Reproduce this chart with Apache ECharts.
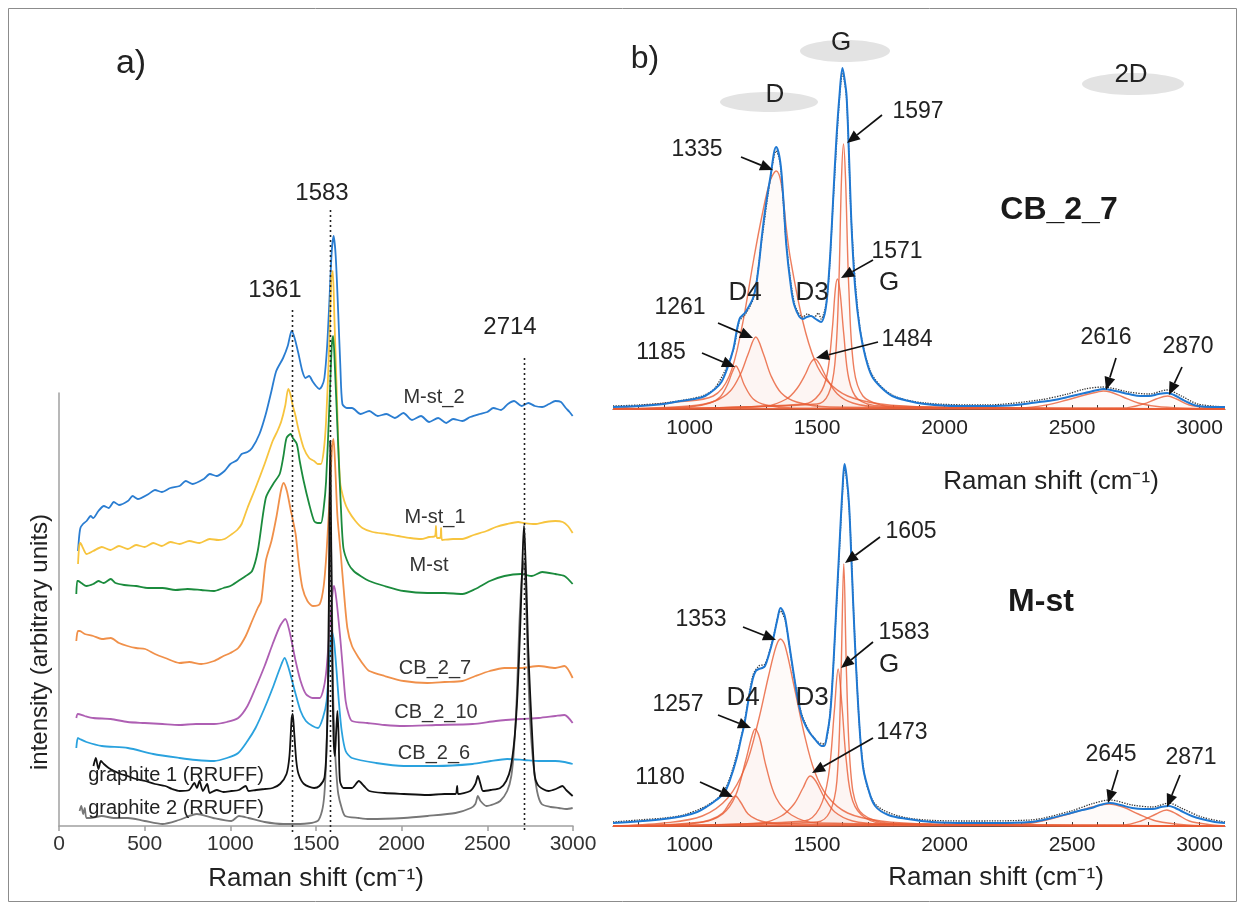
<!DOCTYPE html>
<html>
<head>
<meta charset="utf-8">
<script src="https://cdn.jsdelivr.net/npm/echarts@6/dist/echarts.min.js"></script>
<style>html,body{margin:0;padding:0;background:#fff}#c{width:1245px;height:910px}</style>
</head>
<body>
<div id="c"></div>
<script>
// ---------- DATA (panel a: stacked spectra, arbitrary intensity) ----------
const leftTicks = [0, 500, 1000, 1500, 2000, 2500, 3000];
const rightTicks = [1000, 1500, 2000, 2500, 3000];
const rightMinorTicks = [800, 900, 1000, 1100, 1200, 1300, 1400, 1500, 1600, 1700, 1800, 1900, 2000, 2100, 2200, 2300, 2400, 2500, 2600, 2700, 2800, 2900, 3000];
const peakLinesA = [1361, 1583, 2714];

const mSt2 = [[111,275],[118,290],[125,298],[140,302],[161,305],[185,310],[200,308],[230,315],[262,320],[290,318],[320,324],[350,321],[402,325],[430,330],[460,327],[523,332],[560,336],[600,334],[650,338],[704,340],[740,345],[780,342],[845,347],[880,352],[920,350],[966,355],[1000,362],[1040,366],[1066,372],[1100,374],[1127,378],[1170,392],[1207,412],[1240,435],[1268,455],[1308,468],[1335,480],[1358,495],[1375,488],[1398,472],[1420,455],[1439,448],[1460,450],[1479,445],[1500,440],[1519,437],[1535,440],[1549,448],[1565,480],[1579,528],[1592,575],[1603,590],[1615,570],[1630,512],[1642,460],[1654,422],[1680,418],[1710,418],[1760,412],[1811,415],[1860,410],[1911,412],[1960,408],[2010,413],[2060,406],[2113,410],[2160,404],[2213,408],[2260,403],[2300,407],[2354,405],[2400,409],[2455,412],[2500,414],[2535,418],[2580,416],[2620,422],[2656,425],[2700,420],[2740,423],[2777,420],[2820,419],[2860,422],[2897,425],[2930,424],[2958,418],[2980,414],[2998,410]];
const mSt1 = [[111,262],[118,280],[125,283],[140,278],[161,272],[200,275],[250,279],[300,276],[350,280],[402,277],[450,281],[500,279],[550,283],[600,280],[650,284],[704,282],[760,285],[820,283],[880,287],[930,286],[966,287],[1010,292],[1040,296],[1066,302],[1100,318],[1147,338],[1200,362],[1247,385],[1275,395],[1298,405],[1320,420],[1338,437],[1350,432],[1365,420],[1378,412],[1400,395],[1428,378],[1460,368],[1489,365],[1510,362],[1529,362],[1545,375],[1559,405],[1575,470],[1590,548],[1598,555],[1607,510],[1620,440],[1640,345],[1665,325],[1690,315],[1730,305],[1771,298],[1830,294],[1911,292],[1980,290],[2050,288],[2113,287],[2160,289],[2195,290],[2200,300],[2206,288],[2225,288],[2230,298],[2236,286],[2300,287],[2354,287],[2420,291],[2495,295],[2550,299],[2616,302],[2680,304],[2714,303],[2777,302],[2840,304],[2897,305],[2940,304],[2970,300],[2998,293]];
const mSt = [[101,232],[106,245],[111,245],[130,243],[160,240],[200,242],[230,245],[260,243],[302,247],[330,243],[380,241],[450,240],[520,238],[604,238],[680,236],[750,237],[830,236],[905,235],[960,238],[1000,240],[1046,245],[1090,250],[1127,255],[1160,275],[1207,328],[1250,342],[1288,352],[1310,370],[1328,388],[1352,392],[1365,388],[1388,382],[1405,365],[1428,345],[1460,322],[1489,305],[1510,303],[1529,303],[1545,318],[1559,345],[1578,420],[1592,480],[1600,490],[1610,460],[1630,378],[1645,320],[1660,278],[1690,262],[1720,255],[1760,250],[1811,245],[1900,240],[2012,235],[2150,233],[2250,233],[2354,232],[2430,237],[2515,245],[2600,250],[2696,252],[2760,250],[2820,254],[2897,252],[2950,250],[2998,242]];
const cb27 = [[101,185],[110,195],[121,195],[150,192],[200,190],[250,187],[302,188],[350,183],[400,180],[450,178],[503,177],[560,172],[620,168],[704,163],[760,164],[830,162],[905,165],[960,170],[1000,173],[1046,178],[1090,190],[1127,205],[1160,218],[1180,225],[1207,265],[1240,285],[1270,310],[1295,335],[1311,343],[1330,335],[1350,318],[1381,292],[1400,262],[1421,238],[1450,225],[1482,220],[1522,222],[1545,240],[1562,275],[1580,330],[1594,380],[1602,387],[1612,360],[1625,310],[1643,275],[1660,240],[1683,198],[1710,180],[1750,168],[1783,160],[1811,155],[1900,150],[2012,145],[2150,143],[2250,144],[2354,145],[2430,150],[2515,155],[2600,158],[2696,158],[2800,160],[2897,158],[2950,160],[2998,148]];
const cb210 = [[101,108],[110,112],[150,110],[200,108],[302,107],[400,104],[500,103],[604,102],[700,101],[800,102],[905,102],[980,104],[1046,108],[1100,120],[1147,138],[1200,160],[1247,182],[1290,200],[1321,207],[1345,195],[1381,165],[1410,145],[1441,132],[1480,128],[1522,128],[1545,138],[1562,158],[1585,210],[1600,238],[1606,240],[1620,225],[1643,185],[1660,150],[1673,125],[1690,112],[1710,105],[1800,103],[1900,101],[2012,100],[2200,101],[2414,102],[2550,105],[2696,107],[2800,108],[2897,110],[2950,111],[2998,103]];
const cb26 = [[101,78],[110,88],[121,87],[160,84],[250,80],[402,78],[550,72],[704,68],[800,66],[905,65],[980,68],[1046,73],[1100,85],[1147,98],[1200,118],[1247,138],[1290,158],[1317,168],[1340,158],[1381,132],[1410,115],[1441,105],[1480,100],[1512,98],[1540,108],[1562,125],[1580,170],[1592,195],[1605,185],[1620,155],[1633,125],[1650,95],[1673,75],[1710,68],[1850,63],[2012,60],[2200,60],[2414,62],[2520,65],[2616,67],[2714,66],[2800,65],[2897,65],[2950,64],[2998,62]];
const graphite1 = [[201,60],[215,68],[230,57],[245,65],[262,62],[290,58],[322,55],[360,52],[400,50],[450,47],[503,45],[560,42],[620,40],[660,37],[704,35],[760,36],[790,43],[805,38],[820,45],[840,35],[865,42],[880,33],[920,36],[960,34],[1006,35],[1050,36],[1090,40],[1106,35],[1150,36],[1200,37],[1247,38],[1290,42],[1328,52],[1345,70],[1358,108],[1364,112],[1372,95],[1385,65],[1398,52],[1430,42],[1489,38],[1520,40],[1549,48],[1562,80],[1572,160],[1578,300],[1583,385],[1588,300],[1595,160],[1602,90],[1610,70],[1618,95],[1625,115],[1632,90],[1640,45],[1660,38],[1710,38],[1750,45],[1780,40],[1811,35],[1900,33],[2012,32],[2150,31],[2250,32],[2314,32],[2324,40],[2330,32],[2400,35],[2430,42],[2445,50],[2460,42],[2475,35],[2520,36],[2575,38],[2610,45],[2636,58],[2660,90],[2676,132],[2690,190],[2700,240],[2708,280],[2714,300],[2720,280],[2728,240],[2738,180],[2750,132],[2765,80],[2777,50],[2800,40],[2857,35],[2900,37],[2938,40],[2960,36],[2998,30]];
const graphite2 = [[120,15],[130,20],[141,12],[150,18],[160,8],[181,8],[250,10],[320,8],[402,8],[500,5],[604,2],[700,6],[805,12],[900,8],[1006,5],[1050,10],[1106,8],[1200,4],[1308,2],[1408,2],[1509,5],[1535,15],[1549,32],[1560,70],[1569,132],[1577,240],[1585,305],[1592,240],[1600,132],[1610,80],[1620,50],[1630,32],[1650,18],[1670,10],[1750,8],[1811,7],[2012,8],[2150,10],[2314,13],[2404,18],[2430,22],[2445,30],[2460,25],[2495,20],[2540,22],[2575,25],[2616,35],[2640,50],[2656,78],[2672,130],[2686,198],[2700,245],[2714,265],[2725,230],[2736,165],[2750,105],[2767,65],[2790,35],[2817,22],[2870,19],[2918,18],[2960,17],[2998,18]];

// ---------- DATA (panel b, top: CB_2_7 fit) ----------
const topFit = [[700,2],[805,3],[900,5],[965,8],[1020,10],[1061,13],[1100,20],[1125,27],[1150,42],[1172,60],[1196,90],[1220,97],[1252,113],[1270,140],[1284,173],[1300,205],[1316,230],[1340,262],[1356,247],[1368,210],[1380,163],[1395,128],[1412,103],[1444,90],[1460,92],[1476,93],[1495,90],[1516,87],[1530,95],[1540,113],[1552,155],[1564,213],[1576,270],[1588,313],[1600,341],[1608,330],[1616,313],[1626,250],[1636,180],[1650,120],[1668,80],[1690,52],[1715,33],[1750,22],[1795,13],[1860,8],[1923,5],[2050,3],[2163,3],[2280,4],[2371,7],[2430,9],[2483,12],[2550,16],[2600,19],[2623,20],[2670,18],[2722,15],[2770,13],[2802,13],[2840,15],[2873,16],[2900,14],[2929,10],[2960,6],[2993,3],[3050,2],[3100,2]];
const topRaw = [[700,3],[800,4],[900,6],[1000,10],[1060,14],[1100,21],[1150,44],[1175,62],[1196,88],[1220,95],[1252,112],[1284,170],[1316,228],[1340,258],[1356,245],[1380,165],[1412,105],[1444,92],[1462,95],[1476,93],[1490,92],[1505,96],[1516,90],[1540,112],[1564,210],[1588,310],[1600,335],[1616,310],[1636,182],[1668,82],[1715,35],[1795,14],[1923,6],[2163,4],[2371,9],[2483,15],[2550,20],[2623,22],[2722,17],[2802,15],[2873,19],[2929,13],[2993,5],[3100,2]];
const top1185 = [[700,0],[1000,2],[1080,6],[1120,12],[1150,25],[1168,37],[1182,43],[1196,37],[1215,24],[1250,10],[1300,4],[1400,1],[3100,0]];
const top1261 = [[700,0],[1000,3],[1100,8],[1160,18],[1200,35],[1230,55],[1260,72],[1290,55],[1320,33],[1360,16],[1420,7],[1550,2],[3100,0]];
const top1335 = [[700,0],[800,3],[950,7],[1093,13],[1156,33],[1204,80],[1252,150],[1284,193],[1316,228],[1340,238],[1360,225],[1380,180],[1396,150],[1444,88],[1492,48],[1540,28],[1620,13],[1750,5],[1950,2],[3100,0]];
const top1484 = [[700,0],[1300,3],[1380,10],[1420,20],[1455,35],[1475,46],[1492,50],[1510,45],[1540,30],[1580,15],[1640,6],[1750,2],[3100,0]];
const top1571 = [[700,0],[1450,5],[1510,15],[1540,35],[1560,80],[1572,120],[1580,130],[1590,118],[1605,75],[1625,30],[1660,10],[1750,3],[3100,0]];
const top1597 = [[700,0],[1500,5],[1545,15],[1570,45],[1585,120],[1596,230],[1604,265],[1612,230],[1625,120],[1645,40],[1680,13],[1750,4],[1850,1],[3100,0]];
const top2616 = [[700,0],[2300,1],[2400,4],[2480,9],[2550,14],[2600,17],[2623,18],[2650,17],[2700,12],[2760,6],[2850,2],[3100,0]];
const top2870 = [[700,0],[2700,1],[2780,5],[2830,10],[2875,13],[2910,10],[2960,4],[3050,1],[3100,0]];

// ---------- DATA (panel b, bottom: M-st fit) ----------
const botFit = [[700,3],[816,5],[900,7],[976,10],[1030,14],[1072,20],[1105,26],[1136,33],[1160,47],[1184,67],[1200,85],[1216,103],[1232,127],[1248,147],[1260,155],[1272,157],[1285,158],[1296,160],[1312,172],[1328,187],[1345,207],[1357,218],[1368,214],[1376,207],[1392,180],[1408,153],[1424,128],[1440,110],[1456,100],[1472,93],[1488,88],[1504,83],[1518,80],[1528,80],[1540,92],[1552,113],[1564,160],[1576,220],[1590,290],[1600,337],[1608,362],[1616,350],[1626,320],[1636,260],[1648,187],[1664,110],[1680,60],[1700,38],[1728,20],[1780,11],[1856,7],[1950,4],[2096,3],[2200,3],[2336,4],[2420,8],[2496,13],[2540,16],[2576,18],[2610,21],[2648,23],[2690,21],[2736,18],[2780,17],[2816,17],[2850,19],[2880,20],[2905,18],[2928,15],[2970,10],[3008,7],[3060,4],[3100,3]];
const botRaw = [[700,4],[800,6],[900,8],[976,11],[1072,21],[1136,35],[1184,70],[1216,105],[1248,150],[1272,160],[1296,162],[1328,188],[1357,215],[1376,205],[1408,152],[1440,112],[1472,94],[1504,84],[1528,82],[1552,115],[1576,218],[1600,333],[1608,358],[1626,318],[1648,190],[1680,62],[1728,22],[1856,8],[2096,5],[2336,6],[2496,15],[2576,22],[2648,26],[2736,21],[2816,19],[2880,23],[2928,18],[3008,9],[3100,4]];
const bot1180 = [[700,0],[1000,2],[1080,6],[1130,13],[1160,24],[1180,30],[1200,24],[1230,12],[1280,5],[1350,2],[3100,0]];
const bot1257 = [[700,0],[1050,4],[1130,12],[1180,30],[1220,65],[1245,90],[1257,97],[1275,88],[1300,60],[1340,28],[1400,11],[1500,3],[3100,0]];
const bot1353 = [[700,0],[900,3],[1050,10],[1150,28],[1220,60],[1270,105],[1310,150],[1340,180],[1357,187],[1375,180],[1410,140],[1450,92],[1490,55],[1540,30],[1620,13],[1750,5],[1950,2],[3100,0]];
const bot1473 = [[700,0],[1280,3],[1360,10],[1410,22],[1445,38],[1473,50],[1495,45],[1530,28],[1570,14],[1640,5],[1750,2],[3100,0]];
const bot1583 = [[700,0],[1450,5],[1510,18],[1545,50],[1568,115],[1583,157],[1598,120],[1615,65],[1640,25],[1690,8],[1780,2],[3100,0]];
const bot1605 = [[700,0],[1500,4],[1550,14],[1578,45],[1594,150],[1605,262],[1616,150],[1632,55],[1660,18],[1720,6],[1820,2],[3100,0]];
const bot2645 = [[700,0],[2300,2],[2400,6],[2500,13],[2580,19],[2645,22],[2700,19],[2760,12],[2830,5],[2950,1],[3100,0]];
const bot2871 = [[700,0],[2700,1],[2770,5],[2830,12],[2871,16],[2910,12],[2960,5],[3050,1],[3100,0]];

// ---------- CHART ----------
const FONT = "'Liberation Sans', Arial, sans-serif";
const chart = echarts.init(document.getElementById('c'), null, {renderer: 'canvas'});

const leftSpectra = [
  ['M-st_2', mSt2, '#2a7dd1'],
  ['M-st_1', mSt1, '#f7c43e'],
  ['M-st', mSt, '#1b8b3d'],
  ['CB_2_7', cb27, '#f0904a'],
  ['CB_2_10', cb210, '#ae5fb3'],
  ['CB_2_6', cb26, '#2aa2de'],
  ['graphite 2 (RRUFF)', graphite2, '#777777'],
  ['graphite 1 (RRUFF)', graphite1, '#111111']
];
const topBands = [top1185, top1261, top1335, top1484, top1571, top1597, top2616, top2870];
const botBands = [bot1180, bot1257, bot1353, bot1473, bot1583, bot1605, bot2645, bot2871];

const series = [];
leftSpectra.forEach(([name, d, col]) => {
  series.push({name, type: 'line', xAxisIndex: 0, yAxisIndex: 0, data: d, symbol: 'none', clip: false,
    smooth: 0.25, lineStyle: {color: col, width: 1.8}, z: 3});
});
function addFit(ax, bands, raw, fit) {
  bands.forEach(b => series.push({type: 'line', xAxisIndex: ax, yAxisIndex: ax, data: b, symbol: 'none', clip: false,
    smooth: 0.35, lineStyle: {color: 'rgba(232,92,52,0.8)', width: 1.4},
    areaStyle: {color: 'rgba(240,120,90,0.05)'}, z: 2}));
  series.push({type: 'line', xAxisIndex: ax, yAxisIndex: ax, data: raw, symbol: 'none', clip: false,
    smooth: 0.3, lineStyle: {color: '#333', width: 1.3, type: 'dotted'}, z: 3});
  series.push({type: 'line', xAxisIndex: ax, yAxisIndex: ax, data: fit, symbol: 'none', clip: false,
    smooth: 0.35, lineStyle: {color: '#1f78d2', width: 2}, z: 4});
}
addFit(1, topBands, topRaw, topFit);
addFit(2, botBands, botRaw, botFit);

const plain = v => String(v);
const rightX = (top) => ({
  gridIndex: top ? 1 : 2, type: 'value', min: 700, max: 3100,
  axisLine: {show: true, lineStyle: {color: '#444', width: 1}},
  axisTick: {show: true, customValues: rightMinorTicks, length: 4, inside: true, lineStyle: {color: '#333'}},
  axisLabel: {customValues: rightTicks, formatter: plain, color: '#222', fontSize: 21, fontFamily: FONT, margin: 9},
  splitLine: {show: false}
});

const option = {
  animation: false,
  backgroundColor: '#ffffff',
  grid: [
    {left: 59, width: 514, top: 393, height: 433},
    {left: 613, width: 612, top: 49, height: 360},
    {left: 613, width: 612, top: 466, height: 360}
  ],
  xAxis: [
    {gridIndex: 0, type: 'value', min: leftTicks[0], max: leftTicks[leftTicks.length - 1], interval: 500,
      axisLine: {show: true, lineStyle: {color: '#a0a0a0', width: 1.5}},
      axisTick: {show: true, length: 5, lineStyle: {color: '#a0a0a0', width: 1.5}},
      axisLabel: {formatter: plain, color: '#333', fontSize: 21, fontFamily: FONT, margin: 8},
      splitLine: {show: false},
      name: 'Raman shift (cm⁻¹)', nameLocation: 'middle', nameGap: 40,
      nameTextStyle: {fontSize: 26, color: '#222', fontFamily: FONT}},
    rightX(true),
    rightX(false)
  ],
  yAxis: [
    {gridIndex: 0, type: 'value', min: 0, max: 433,
      axisLine: {show: true, lineStyle: {color: '#a0a0a0', width: 1.5}},
      axisTick: {show: false}, axisLabel: {show: false}, splitLine: {show: false}},
    {gridIndex: 1, type: 'value', min: 0, max: 360, show: false, splitLine: {show: false}},
    {gridIndex: 2, type: 'value', min: 0, max: 360, show: false, splitLine: {show: false}}
  ],
  series
};
chart.setOption(option);

// ---------- ANNOTATIONS ----------
function txt(text, x, y, size, extra) {
  return Object.assign({type: 'text', x, y, z: 20,
    style: Object.assign({text, fontSize: size, fontFamily: FONT, fill: '#222', align: 'center', verticalAlign: 'middle'}, extra || {})});
}
function arrow(x1, y1, x2, y2) {
  const dx = x2 - x1, dy = y2 - y1, L = Math.hypot(dx, dy), ux = dx / L, uy = dy / L;
  const hl = 13, hw = 5.5, bx = x2 - ux * hl, by = y2 - uy * hl;
  return [
    {type: 'line', z: 20, shape: {x1, y1, x2: bx, y2: by}, style: {stroke: '#111', lineWidth: 1.7}},
    {type: 'polygon', z: 20, shape: {points: [[x2, y2], [bx - uy * hw, by + ux * hw], [bx + uy * hw, by - ux * hw]]}, style: {fill: '#111'}}
  ];
}
function ellipse(cx, cy, rx, ry) {
  return {type: 'ellipse', z: 1, shape: {cx, cy, rx, ry}, style: {fill: '#e3e3e3'}};
}

const g = [];
g.push({type: 'rect', z: 0, shape: {x: 8.5, y: 8.5, width: 1228, height: 893}, style: {fill: 'none', stroke: '#8c8c8c', lineWidth: 1}});

// panel a
g.push(txt('a)', 131, 64, 34));
g.push(Object.assign(txt('intensity (arbitrary units)', 40, 642, 24), {rotation: Math.PI / 2}));
const lineTops = [310, 210, 358];
const labelPos = [[275, 290], [322, 193], [510, 327]];
peakLinesA.forEach((v, i) => {
  const x = Math.round(chart.convertToPixel({xAxisIndex: 0}, v)) + 0.5;
  g.push({type: 'line', z: 10, shape: {x1: x, y1: lineTops[i], x2: x, y2: 832}, style: {stroke: '#222', lineWidth: 1.6, lineDash: [2, 3]}});
  g.push(txt(String(v), labelPos[i][0], labelPos[i][1], 24));
});
g.push(txt('M-st_2', 434, 397, 20, {fill: '#333'}));
g.push(txt('M-st_1', 435, 517, 20, {fill: '#333'}));
g.push(txt('M-st', 429, 565, 20, {fill: '#333'}));
g.push(txt('CB_2_7', 435, 668, 20, {fill: '#333'}));
g.push(txt('CB_2_10', 436, 712, 20, {fill: '#333'}));
g.push(txt('CB_2_6', 434, 753, 20, {fill: '#333'}));
g.push(txt('graphite 1 (RRUFF)', 176, 775, 20, {fill: '#222'}));
g.push(txt('graphite 2 (RRUFF)', 176, 808, 20, {fill: '#222'}));

// panel b top
g.push(txt('b)', 645, 59, 32));
g.push(ellipse(769, 102, 49, 10), ellipse(845, 51, 45, 11), ellipse(1133, 84, 51, 11));
g.push(txt('D', 775, 95, 26), txt('G', 841, 43, 26), txt('2D', 1131, 75, 26));
g.push(txt('CB_2_7', 1059, 210, 32, {fontWeight: 'bold', fill: '#1a1a1a'}));
g.push(txt('Raman shift (cm⁻¹)', 1051, 482, 26));
g.push(txt('1335', 697, 150, 23)); g.push(...arrow(741, 157, 773, 170));
g.push(txt('1597', 918, 112, 23)); g.push(...arrow(882, 115, 847, 143));
g.push(txt('1571', 897, 252, 23)); g.push(...arrow(873, 260, 841, 278));
g.push(txt('G', 889, 283, 26));
g.push(txt('D4', 745, 293, 26), txt('D3', 812, 293, 26));
g.push(txt('1261', 680, 308, 23)); g.push(...arrow(718, 323, 753, 338));
g.push(txt('1185', 661, 353, 23)); g.push(...arrow(702, 353, 735, 367));
g.push(txt('1484', 907, 340, 23)); g.push(...arrow(878, 342, 816, 358));
g.push(txt('2616', 1106, 338, 23)); g.push(...arrow(1116, 358, 1106, 390));
g.push(txt('2870', 1188, 347, 23)); g.push(...arrow(1182, 367, 1169, 395));

// panel b bottom
g.push(txt('M-st', 1041, 602, 32, {fontWeight: 'bold', fill: '#1a1a1a'}));
g.push(txt('Raman shift (cm⁻¹)', 996, 878, 26));
g.push(txt('1605', 911, 532, 23)); g.push(...arrow(880, 537, 845, 563));
g.push(txt('1353', 701, 620, 23)); g.push(...arrow(743, 627, 776, 640));
g.push(txt('1583', 904, 633, 23)); g.push(...arrow(873, 642, 841, 668));
g.push(txt('G', 889, 665, 26));
g.push(txt('D4', 743, 698, 26), txt('D3', 812, 698, 26));
g.push(txt('1257', 678, 705, 23)); g.push(...arrow(718, 715, 751, 728));
g.push(txt('1473', 902, 733, 23)); g.push(...arrow(873, 738, 812, 773));
g.push(txt('1180', 660, 778, 23)); g.push(...arrow(700, 782, 733, 797));
g.push(txt('2645', 1111, 755, 23)); g.push(...arrow(1118, 770, 1108, 803));
g.push(txt('2871', 1191, 758, 23)); g.push(...arrow(1180, 775, 1167, 807));

chart.setOption({graphic: g});
</script>
</body>
</html>
